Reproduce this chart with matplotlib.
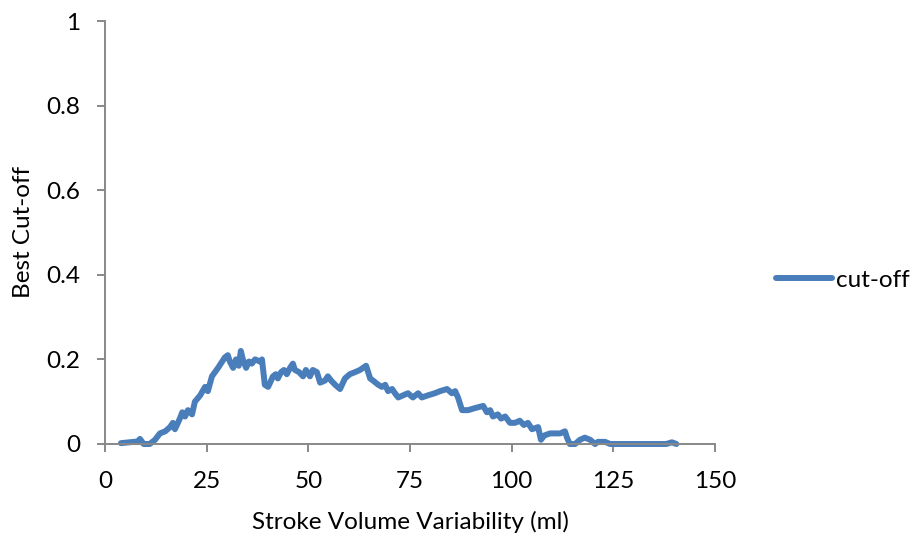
import matplotlib
matplotlib.use("Agg")
import matplotlib.pyplot as plt

plt.rcParams['font.family'] = ['Lato', 'DejaVu Sans']

# stroke volume variability (ml) vs best cut-off
svv = [3.9, 6.0, 8.0, 8.6, 9.5, 11.0, 12.3, 13.5, 14.8, 16.0, 16.7, 17.2, 18.4, 19.0,
       19.7, 20.4, 21.4, 22.1, 23.4, 24.6, 25.3, 26.3, 27.8, 29.5, 30.2, 30.7, 31.5,
       32.2, 32.9, 33.4, 33.9, 34.7, 35.4, 36.1, 36.9, 38.1, 38.6, 39.3, 40.1, 40.6,
       41.3, 42.0, 42.5, 43.3, 44.0, 44.7, 45.5, 46.2, 46.7, 47.7, 48.7, 49.4, 50.4,
       51.1, 52.1, 52.9, 54.1, 54.8, 55.6, 56.6, 57.8, 59.0, 60.2, 61.5, 62.7, 64.2,
       65.2, 65.9, 67.2, 68.1, 68.9, 69.6, 70.6, 71.3, 72.1, 73.3, 74.5, 75.7, 77.0,
       77.9, 79.4, 81.1, 82.4, 84.1, 85.3, 86.1, 86.8, 87.8, 89.3, 91.0, 93.0, 93.9,
       94.7, 95.4, 96.6, 97.4, 98.4, 99.6, 100.8, 102.0, 103.0, 104.0, 105.0, 106.5,
       107.2, 108.0, 109.4, 111.9, 113.1, 113.6, 114.3, 115.6, 116.8, 118.0, 119.3,
       120.5, 121.2, 123.0, 124.2, 126.6, 133.0, 138.0, 139.4, 140.5]
cutoff = [0.002, 0.004, 0.006, 0.012, 0.0, 0.0, 0.01, 0.025, 0.03, 0.04, 0.05, 0.035,
          0.06, 0.075, 0.065, 0.08, 0.07, 0.1, 0.115, 0.135, 0.125, 0.16, 0.18, 0.205,
          0.21, 0.195, 0.18, 0.2, 0.185, 0.22, 0.2, 0.18, 0.195, 0.19, 0.2, 0.195, 0.2,
          0.14, 0.135, 0.145, 0.16, 0.165, 0.155, 0.17, 0.175, 0.165, 0.18, 0.19, 0.175,
          0.17, 0.16, 0.175, 0.16, 0.175, 0.17, 0.145, 0.15, 0.16, 0.15, 0.14, 0.13,
          0.155, 0.165, 0.17, 0.175, 0.185, 0.155, 0.15, 0.14, 0.135, 0.14, 0.125, 0.13,
          0.12, 0.11, 0.115, 0.12, 0.11, 0.12, 0.11, 0.115, 0.12, 0.125, 0.13, 0.12,
          0.125, 0.11, 0.08, 0.08, 0.085, 0.09, 0.075, 0.08, 0.065, 0.07, 0.06, 0.065,
          0.05, 0.05, 0.055, 0.045, 0.05, 0.035, 0.04, 0.01, 0.02, 0.025, 0.025, 0.03,
          0.015, 0.0, 0.0, 0.01, 0.015, 0.01, 0.0, 0.005, 0.005, 0.0, 0.0, 0.0, 0.0,
          0.004, 0.0]

x_ticks = [0, 25, 50, 75, 100, 125, 150]
y_ticks = [0, 0.2, 0.4, 0.6, 0.8, 1]
y_labels = ['0', '0.2', '0.4', '0.6', '0.8', '1']

fs = 17.5

fig = plt.figure(figsize=(9.1, 5.38), dpi=100)
ax = fig.add_axes([105/910, 1-444/538, 610/910, 423/538])

ax.plot(svv, cutoff, color='#4a7ebb', linewidth=4.3, solid_joinstyle='round',
        solid_capstyle='round', label='cut-off', clip_on=False)

ax.set_xlim(0, 150)
ax.set_ylim(0, 1)
ax.set_xticks(x_ticks)
ax.set_yticks(y_ticks)
ax.set_yticklabels(y_labels)

for s in ['top', 'right']:
    ax.spines[s].set_visible(False)
for s in ['left', 'bottom']:
    ax.spines[s].set_color('#888888')
    ax.spines[s].set_linewidth(1.4)
ax.tick_params(colors='#888888', width=1.4, length=5.8, labelsize=fs, labelcolor='black')
ax.tick_params(axis='x', pad=14)
ax.tick_params(axis='y', pad=12)

ax.set_xlabel('Stroke Volume Variability (ml)', fontsize=fs, labelpad=13)
ax.set_ylabel('Best Cut-off', fontsize=fs, labelpad=9)

leg = fig.legend(loc='center left', bbox_to_anchor=(776/910, 1-280/538), frameon=False,
                 fontsize=fs, handlelength=2.3, handletextpad=0.15, borderpad=0,
                 borderaxespad=0)

fig.savefig('out.png', dpi=100)
